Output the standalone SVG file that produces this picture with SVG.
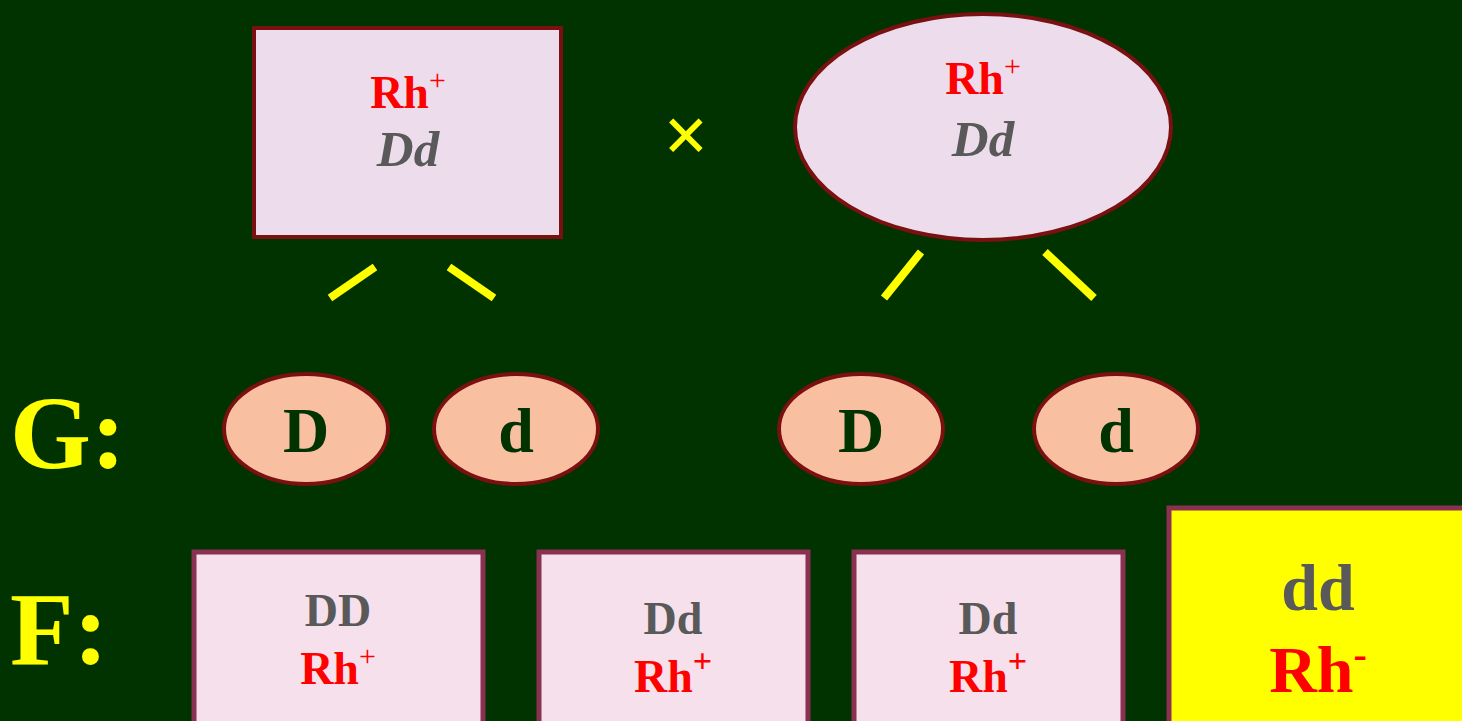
<svg xmlns="http://www.w3.org/2000/svg" width="1462" height="721" viewBox="0 0 1462 721">
  <style>
    .bg { fill: #003300; }
    .parent { fill: #ecdcec; stroke: #7a1010; stroke-width: 4; }
    .gamete { fill: #f8c0a0; stroke: #7a1010; stroke-width: 4; }
    .child { fill: #f6e0ec; stroke: #8a3050; stroke-width: 5; }
    .child-neg { fill: #ffff00; stroke: #8a3050; stroke-width: 5; }
    .t { font-family: "Liberation Serif", "Times New Roman", serif; font-weight: bold; text-anchor: middle; }
    .rh { fill: #ff0000; font-size: 46px; }
    .geno { fill: #595959; font-size: 46px; }
    .it { font-style: italic; font-size: 51px; }
    .gam { fill: #003300; font-size: 64px; }
    .lbl { fill: #ffff00; font-size: 104px; text-anchor: start; }
    .big { font-size: 66px; }
    .link { stroke: #ffff00; stroke-width: 8; }
  </style>
  <rect class="bg" x="0" y="0" width="1462" height="721"/>

  <!-- parents -->
  <g id="parent-left">
    <rect class="parent" x="254" y="28" width="307" height="209"/>
    <text class="t rh" x="408" y="108">Rh<tspan font-size="30" font-weight="normal" dy="-18">+</tspan></text>
    <text class="t geno it" x="408" y="166">Dd</text>
  </g>
  <g id="cross">
    <text class="t" x="686" y="162" font-size="80" fill="#ffff00" font-weight="normal">×</text>
  </g>
  <g id="parent-right">
    <ellipse class="parent" cx="983" cy="127" rx="188" ry="113"/>
    <text class="t rh" x="983" y="94">Rh<tspan font-size="30" font-weight="normal" dy="-18">+</tspan></text>
    <text class="t geno it" x="983" y="156" font-size="54">Dd</text>
  </g>

  <!-- links from parents to gametes -->
  <g id="connectors">
    <line class="link" x1="330" y1="298" x2="375" y2="267"/>
    <line class="link" x1="449" y1="267" x2="494" y2="298"/>
    <line class="link" x1="884" y1="298" x2="921" y2="252"/>
    <line class="link" x1="1045" y1="252" x2="1094" y2="298"/>
  </g>

  <!-- gametes -->
  <g id="label-g"><text class="t lbl" x="10" y="468">G:</text></g>
  <g id="gamete-1">
    <ellipse class="gamete" cx="306" cy="429" rx="82" ry="55"/>
    <text class="t gam" x="306" y="452">D</text>
  </g>
  <g id="gamete-2">
    <ellipse class="gamete" cx="516" cy="429" rx="82" ry="55"/>
    <text class="t gam" x="516" y="452">d</text>
  </g>
  <g id="gamete-3">
    <ellipse class="gamete" cx="861" cy="429" rx="82" ry="55"/>
    <text class="t gam" x="861" y="452">D</text>
  </g>
  <g id="gamete-4">
    <ellipse class="gamete" cx="1116" cy="429" rx="82" ry="55"/>
    <text class="t gam" x="1116" y="452">d</text>
  </g>

  <!-- offspring -->
  <g id="label-f"><text class="t lbl" x="10" y="664">F:</text></g>
  <g id="child-dd-dom">
    <rect class="child" x="194" y="552" width="289" height="180"/>
    <text class="t geno" x="338" y="626">DD</text>
    <text class="t rh" x="338" y="684">Rh<tspan font-size="30" font-weight="normal" dy="-18">+</tspan></text>
  </g>
  <g id="child-dd-het1">
    <rect class="child" x="539" y="552" width="269" height="180"/>
    <text class="t geno" x="673" y="634">Dd</text>
    <text class="t rh" x="673" y="692">Rh<tspan font-size="34" dy="-20">+</tspan></text>
  </g>
  <g id="child-dd-het2">
    <rect class="child" x="854" y="552" width="269" height="180"/>
    <text class="t geno" x="988" y="634">Dd</text>
    <text class="t rh" x="988" y="692">Rh<tspan font-size="34" dy="-20">+</tspan></text>
  </g>
  <g id="child-dd-rec">
    <rect class="child-neg" x="1169" y="508" width="310" height="230"/>
    <text class="t geno big" x="1318" y="610">dd</text>
    <text class="t rh big" x="1318" y="692">Rh<tspan font-size="40" dy="-24">-</tspan></text>
  </g>
</svg>
